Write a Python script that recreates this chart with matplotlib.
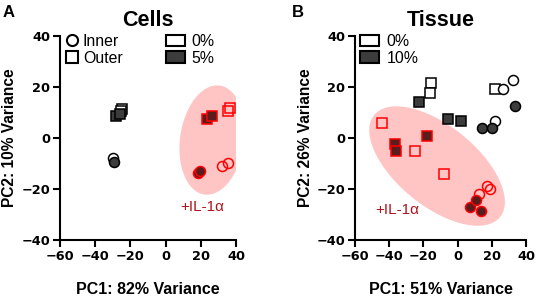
import matplotlib
matplotlib.use("Agg")
import matplotlib.pyplot as plt
import numpy as np
from matplotlib.lines import Line2D
from matplotlib.patches import Patch, Polygon

plt.rcParams['font.family'] = ['Liberation Sans', 'DejaVu Sans']

# ---------------- data ----------------
# Panel A (Cells)
A_ctrl0_outer_x = [-25.0, -25.5]; A_ctrl0_outer_y = [11.5, 10.5]
A_ctrl5_outer_x = [-28.0, -26.0]; A_ctrl5_outer_y = [8.5, 9.5]
A_ctrl0_inner_x = [-30.0]; A_ctrl0_inner_y = [-8.0]
A_ctrl5_inner_x = [-29.5]; A_ctrl5_inner_y = [-9.4]
A_il0_outer_x = [35.3, 36.4]; A_il0_outer_y = [10.6, 11.6]
A_il5_outer_x = [23.5, 26.5]; A_il5_outer_y = [7.5, 8.8]
A_il0_inner_x = [32.0, 35.6]; A_il0_inner_y = [-10.8, -9.7]
A_il5_inner_x = [18.2, 19.7]; A_il5_inner_y = [-13.6, -13.1]

# Panel B (Tissue)
B_ctrl0_outer_x = [-15.3, -16.1, 21.6]; B_ctrl0_outer_y = [21.7, 17.5, 19.2]
B_ctrl0_inner_x = [32.2, 26.5, 21.6]; B_ctrl0_inner_y = [22.7, 19.1, 6.8]
B_ctrl10_outer_x = [-22.3, -5.9, 1.7]; B_ctrl10_outer_y = [14.2, 7.6, 6.8]
B_ctrl10_inner_x = [33.8, 14.4, 20.3]; B_ctrl10_inner_y = [12.5, 4.1, 4.1]
B_il0_outer_x = [-44.2, -24.8, -7.9]; B_il0_outer_y = [6.0, -5.1, -14.2]
B_il10_outer_x = [-36.8, -36.0, -18.0]; B_il10_outer_y = [-2.5, -5.0, 0.9]
B_il0_inner_x = [17.1, 18.7, 12.3]; B_il0_inner_y = [-18.8, -20.1, -22.0]
B_il10_inner_x = [7.4, 10.9, 13.8]; B_il10_inner_y = [-27.2, -24.3, -28.5]

xticks = [-60, -40, -20, 0, 20, 40]
yticks = [-40, -20, 0, 20, 40]

DARK = '#3c3c3c'
MAROON = '#5a1c1c'
RED = '#ff0000'
PINK = '#ffc4c4'
TXTRED = '#b0141c'

fig = plt.figure(figsize=(5.4, 2.97), dpi=100)
axA = fig.add_axes([60/540, 1-240/297, 176/540, 204/297])
axB = fig.add_axes([355/540, 1-240/297, 171/540, 204/297])

MS = 7.2
MEW = 1.1

def style(ax, xlabel, ylabel, title, ylab_x):
    ax.set_xlim(-60, 40)
    ax.set_ylim(-40, 40)
    ax.set_xticks(xticks)
    ax.set_yticks(yticks)
    for s in ['top', 'right']:
        ax.spines[s].set_visible(False)
    for s in ['left', 'bottom']:
        ax.spines[s].set_linewidth(1.5)
    ax.tick_params(width=1.5, length=5, pad=2)
    for lab in ax.get_xticklabels() + ax.get_yticklabels():
        lab.set_fontweight('bold')
        lab.set_fontfamily('DejaVu Sans')
        lab.set_fontsize(9.3)
    ax.set_xlabel(xlabel, fontsize=11.5, fontweight='bold')
    ax.set_ylabel(ylabel, fontsize=11.2, fontweight='bold')
    ax.xaxis.set_label_coords(0.5, -0.205)
    ax.yaxis.set_label_coords(ylab_x, 0.5)
    ax.set_title(title, fontsize=15.5, fontweight='bold', pad=7)

def ellipse(ax, cx, cy, a_px, b_px, ang_deg):
    c = ax.transData.transform((cx, cy))
    t = np.linspace(0, 2*np.pi, 200)
    th = np.deg2rad(ang_deg)
    px = c[0] + a_px*np.cos(t)*np.cos(th) - b_px*np.sin(t)*np.sin(th)
    py = c[1] + a_px*np.cos(t)*np.sin(th) + b_px*np.sin(t)*np.cos(th)
    pts = ax.transData.inverted().transform(np.column_stack([px, py]))
    ax.add_patch(Polygon(pts, closed=True, facecolor=PINK, edgecolor='none', zorder=0))

def pts(ax, x, y, m, fc, ec):
    ax.plot(x, y, ls='none', marker=m, ms=MS, mfc=fc, mec=ec, mew=MEW, zorder=3)

style(axA, 'PC1: 82% Variance', 'PC2: 10% Variance', 'Cells', -0.245)
style(axB, 'PC1: 51% Variance', 'PC2: 26% Variance', 'Tissue', -0.245)

ellipse(axA, 26.4, -0.8, 55, 32, 82)
ellipse(axB, -12.0, -11.0, 81, 40, -39)

# Panel A
pts(axA, A_ctrl0_outer_x, A_ctrl0_outer_y, 's', 'white', 'black')
pts(axA, A_ctrl5_outer_x, A_ctrl5_outer_y, 's', DARK, 'black')
pts(axA, A_ctrl0_inner_x, A_ctrl0_inner_y, 'o', 'white', 'black')
pts(axA, A_ctrl5_inner_x, A_ctrl5_inner_y, 'o', DARK, 'black')
pts(axA, A_il0_outer_x, A_il0_outer_y, 's', 'none', RED)
pts(axA, A_il5_outer_x, A_il5_outer_y, 's', MAROON, RED)
pts(axA, A_il0_inner_x, A_il0_inner_y, 'o', 'none', RED)
pts(axA, A_il5_inner_x, A_il5_inner_y, 'o', MAROON, RED)

# Panel B
pts(axB, B_ctrl0_outer_x, B_ctrl0_outer_y, 's', 'white', 'black')
pts(axB, B_ctrl0_inner_x, B_ctrl0_inner_y, 'o', 'white', 'black')
pts(axB, B_ctrl10_outer_x, B_ctrl10_outer_y, 's', DARK, 'black')
pts(axB, B_ctrl10_inner_x, B_ctrl10_inner_y, 'o', DARK, 'black')
pts(axB, B_il0_outer_x, B_il0_outer_y, 's', 'none', RED)
pts(axB, B_il10_outer_x, B_il10_outer_y, 's', MAROON, RED)
pts(axB, B_il0_inner_x, B_il0_inner_y, 'o', 'none', RED)
pts(axB, B_il10_inner_x, B_il10_inner_y, 'o', MAROON, RED)

# text labels
axA.text(20.7, -27.0, '+IL-1α', color=TXTRED, fontsize=11, ha='center', va='center')
axB.text(-35.5, -28.3, '+IL-1α', color=TXTRED, fontsize=11, ha='center', va='center')

# legends
FS = 11.4
shape_h = [Line2D([], [], ls='none', marker='o', ms=8, mfc='white', mec='black', mew=1.5),
           Line2D([], [], ls='none', marker='s', ms=8, mfc='white', mec='black', mew=1.5)]
legA1 = axA.legend(shape_h, ['Inner', 'Outer'], loc='upper left', bbox_to_anchor=(0.035, 1.01),
                   frameon=False, fontsize=FS, handlelength=0.75, handletextpad=0.3,
                   labelspacing=0.1, borderpad=0, borderaxespad=0)
axA.add_artist(legA1)
fill_h = [Patch(facecolor='white', edgecolor='black', linewidth=1.5),
          Patch(facecolor=DARK, edgecolor='black', linewidth=1.5)]
axA.legend(fill_h, ['0%', '5%'], loc='upper left', bbox_to_anchor=(0.6, 1.01),
           frameon=False, fontsize=FS, handlelength=1.2, handleheight=0.7, handletextpad=0.45,
           labelspacing=0.1, borderpad=0, borderaxespad=0)
axB.legend(fill_h, ['0%', '10%'], loc='upper left', bbox_to_anchor=(0.03, 1.01),
           frameon=False, fontsize=FS, handlelength=1.2, handleheight=0.7, handletextpad=0.45,
           labelspacing=0.1, borderpad=0, borderaxespad=0)

fig.text(3/540, 1-17/297, 'A', fontsize=12, fontweight='bold', va='baseline', ha='left')
fig.text(292/540, 1-17/297, 'B', fontsize=12, fontweight='bold', va='baseline', ha='left')

fig.savefig('out.png', dpi=100)
